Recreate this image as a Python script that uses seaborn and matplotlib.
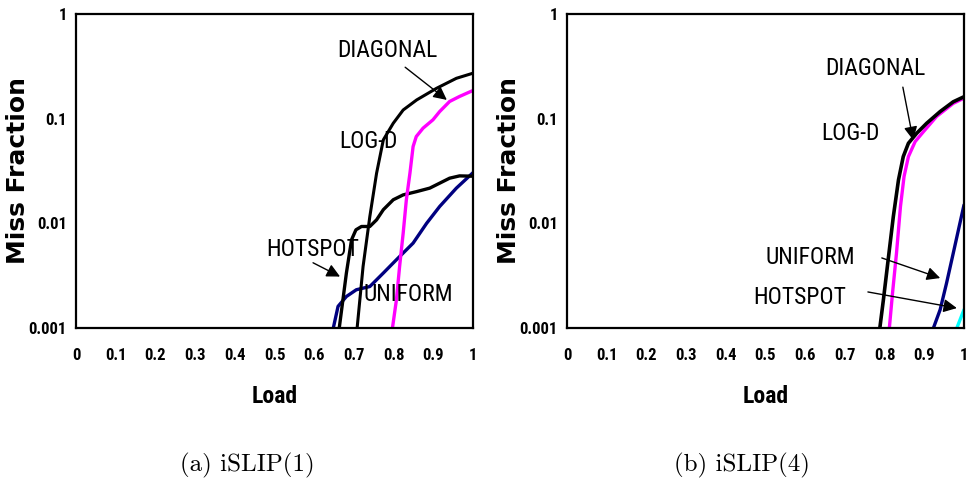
import numpy as np
import pandas as pd
import matplotlib
matplotlib.use("Agg")
import matplotlib.pyplot as plt
from matplotlib import font_manager
import seaborn as sns

# ---- iSLIP(1) ----
load_uniform_1 = [0.648, 0.660, 0.681, 0.706, 0.740, 0.774, 0.807, 0.849, 0.883, 0.916, 0.958, 1.0]
miss_uniform_1 = [0.001, 0.00161, 0.0020, 0.00232, 0.00249, 0.00335, 0.00449, 0.00647, 0.0100, 0.0145, 0.0217, 0.0305]

load_hotspot_1 = [0.663, 0.681, 0.694, 0.705, 0.719, 0.740, 0.757, 0.774, 0.799, 0.824, 0.858, 0.891, 0.916, 0.941, 0.966, 1.0]
miss_hotspot_1 = [0.001, 0.00335, 0.00697, 0.00867, 0.00933, 0.00933, 0.0108, 0.0135, 0.0168, 0.0187, 0.0201, 0.0217, 0.0242, 0.0270, 0.0284, 0.0282]

load_logd_1 = [0.797, 0.807, 0.815, 0.824, 0.832, 0.841, 0.849, 0.857, 0.874, 0.899, 0.916, 0.941, 0.966, 1.0]
miss_logd_1 = [0.001, 0.00186, 0.00387, 0.00805, 0.0168, 0.0301, 0.0542, 0.0675, 0.0811, 0.0975, 0.117, 0.146, 0.163, 0.186]

load_diag_1 = [0.708, 0.723, 0.740, 0.757, 0.774, 0.799, 0.824, 0.858, 0.908, 0.958, 1.0]
miss_diag_1 = [0.001, 0.00387, 0.0116, 0.0301, 0.0627, 0.0904, 0.121, 0.151, 0.195, 0.243, 0.272]

# ---- iSLIP(4) ----
load_uniform_4 = [0.923, 0.940, 0.956, 0.973, 0.986, 1.0]
miss_uniform_4 = [0.001, 0.0015, 0.00268, 0.0052, 0.00867, 0.015]

load_hotspot_4 = [0.982, 1.0]
miss_hotspot_4 = [0.001, 0.0015]

load_logd_4 = [0.812, 0.820, 0.830, 0.840, 0.849, 0.860, 0.877, 0.898, 0.931, 0.973, 1.0]
miss_logd_4 = [0.001, 0.00216, 0.0052, 0.0145, 0.028, 0.0434, 0.0604, 0.0752, 0.105, 0.140, 0.157]

load_diag_4 = [0.788, 0.797, 0.809, 0.822, 0.835, 0.847, 0.860, 0.881, 0.906, 0.940, 0.973, 1.0]
miss_diag_4 = [0.001, 0.00186, 0.00449, 0.0116, 0.026, 0.0434, 0.0582, 0.0726, 0.0904, 0.117, 0.145, 0.162]

x_ticks = [0, 0.1, 0.2, 0.3, 0.4, 0.5, 0.6, 0.7, 0.8, 0.9, 1.0]
x_labels = ["0", "0.1", "0.2", "0.3", "0.4", "0.5", "0.6", "0.7", "0.8", "0.9", "1"]
y_ticks = [0.001, 0.01, 0.1, 1]
y_labels = ["0.001", "0.01", "0.1", "1"]

captions = ["(a) iSLIP(1)", "(b) iSLIP(4)"]

NAVY = "#000080"
MAGENTA = "#ff00ff"
CYAN = "#00ffff"
BLACK = "#000000"

sns.set_style("white")

# pick the narrowest sans family that is installed
installed = {f.name for f in font_manager.fontManager.ttflist}
narrow_choice = "Liberation Sans"
for cand in ["Liberation Sans Narrow", "Arial Narrow", "Roboto Condensed",
             "Open Sans Condensed", "Noto Sans Condensed", "DejaVu Sans Condensed",
             "Liberation Sans"]:
    if cand in installed:
        narrow_choice = cand
        break
NARROW = [narrow_choice, "DejaVu Sans"]
WIDE = ["DejaVu Sans"]

plt.rcParams["font.family"] = NARROW
plt.rcParams["text.color"] = "black"
plt.rcParams["axes.labelcolor"] = "black"
plt.rcParams["xtick.color"] = "black"
plt.rcParams["ytick.color"] = "black"

fig = plt.figure(figsize=(9.67, 4.84), dpi=100)
ax_a = fig.add_axes([0.0786, 0.3223, 0.4106, 0.6488])
ax_b = fig.add_axes([0.5863, 0.3223, 0.4106, 0.6488])


def draw_series(ax, xs, ys, color, lw):
    df = pd.DataFrame({"Load": xs, "Miss": ys})
    sns.lineplot(data=df, x="Load", y="Miss", ax=ax, color=color, lw=lw,
                 sort=False, estimator=None, legend=False)


def style_axes(ax):
    ax.set_yscale("log")
    ax.set_xlim(0, 1)
    ax.set_ylim(0.001, 1)
    ax.set_xticks(x_ticks)
    ax.set_xticklabels(x_labels)
    ax.set_yticks(y_ticks)
    ax.set_yticklabels(y_labels)
    ax.minorticks_off()
    for s in ax.spines.values():
        s.set_visible(True)
        s.set_color("black")
        s.set_linewidth(1.6)
    ax.tick_params(axis="both", which="major", direction="out", length=3.6,
                   width=0.8, color="black", labelsize=12, labelcolor="black")
    ax.tick_params(axis="x", pad=10.5)
    ax.tick_params(axis="y", pad=3)
    for lab in ax.get_xticklabels() + ax.get_yticklabels():
        lab.set_fontweight("bold")
        lab.set_family(NARROW)
    ax.set_xlabel("Load", fontsize=17, fontweight="bold", family=NARROW,
                  color="black")
    ax.xaxis.set_label_coords(0.5, -0.18)
    ax.set_ylabel("Miss Fraction", fontsize=18, fontweight="bold",
                  family=WIDE, color="black")
    ax.yaxis.set_label_coords(-0.116, 0.5)


def label(ax, text, x, y):
    ax.text(x, y, text, ha="center", va="center", fontsize=17,
            family=NARROW, color="black")


def arrow(ax, tail, tip):
    ax.annotate("", xy=tip, xytext=tail,
                arrowprops=dict(arrowstyle="-|>", color="black", lw=1.0,
                                mutation_scale=20, shrinkA=0, shrinkB=0))


# Panel (a): iSLIP(1)
draw_series(ax_a, load_uniform_1, miss_uniform_1, NAVY, 2.4)
draw_series(ax_a, load_hotspot_1, miss_hotspot_1, BLACK, 2.4)
draw_series(ax_a, load_logd_1, miss_logd_1, MAGENTA, 2.4)
draw_series(ax_a, load_diag_1, miss_diag_1, BLACK, 2.2)
style_axes(ax_a)
label(ax_a, "DIAGONAL", 0.783, 0.45)
arrow(ax_a, (0.829, 0.31), (0.934, 0.151))
label(ax_a, "LOG-D", 0.736, 0.060)
label(ax_a, "HOTSPOT", 0.597, 0.0056)
arrow(ax_a, (0.597, 0.0042), (0.665, 0.0031))
label(ax_a, "UNIFORM", 0.836, 0.00207)

# Panel (b): iSLIP(4)
draw_series(ax_b, load_uniform_4, miss_uniform_4, NAVY, 2.4)
draw_series(ax_b, load_hotspot_4, miss_hotspot_4, CYAN, 2.4)
draw_series(ax_b, load_logd_4, miss_logd_4, MAGENTA, 2.4)
draw_series(ax_b, load_diag_4, miss_diag_4, BLACK, 2.6)
style_axes(ax_b)
label(ax_b, "DIAGONAL", 0.778, 0.30)
arrow(ax_b, (0.846, 0.20), (0.872, 0.0625))
label(ax_b, "LOG-D", 0.713, 0.0728)
label(ax_b, "UNIFORM", 0.612, 0.00476)
arrow(ax_b, (0.793, 0.00467), (0.940, 0.0030))
label(ax_b, "HOTSPOT", 0.587, 0.00194)
arrow(ax_b, (0.758, 0.00221), (0.982, 0.00155))

fig.text(247 / 967, 1 - 465 / 484, captions[0], ha="center", va="center",
         fontsize=18, family="cmr10")
fig.text(742 / 967, 1 - 465 / 484, captions[1], ha="center", va="center",
         fontsize=18, family="cmr10")

fig.savefig("out.png", dpi=100, facecolor="white")
